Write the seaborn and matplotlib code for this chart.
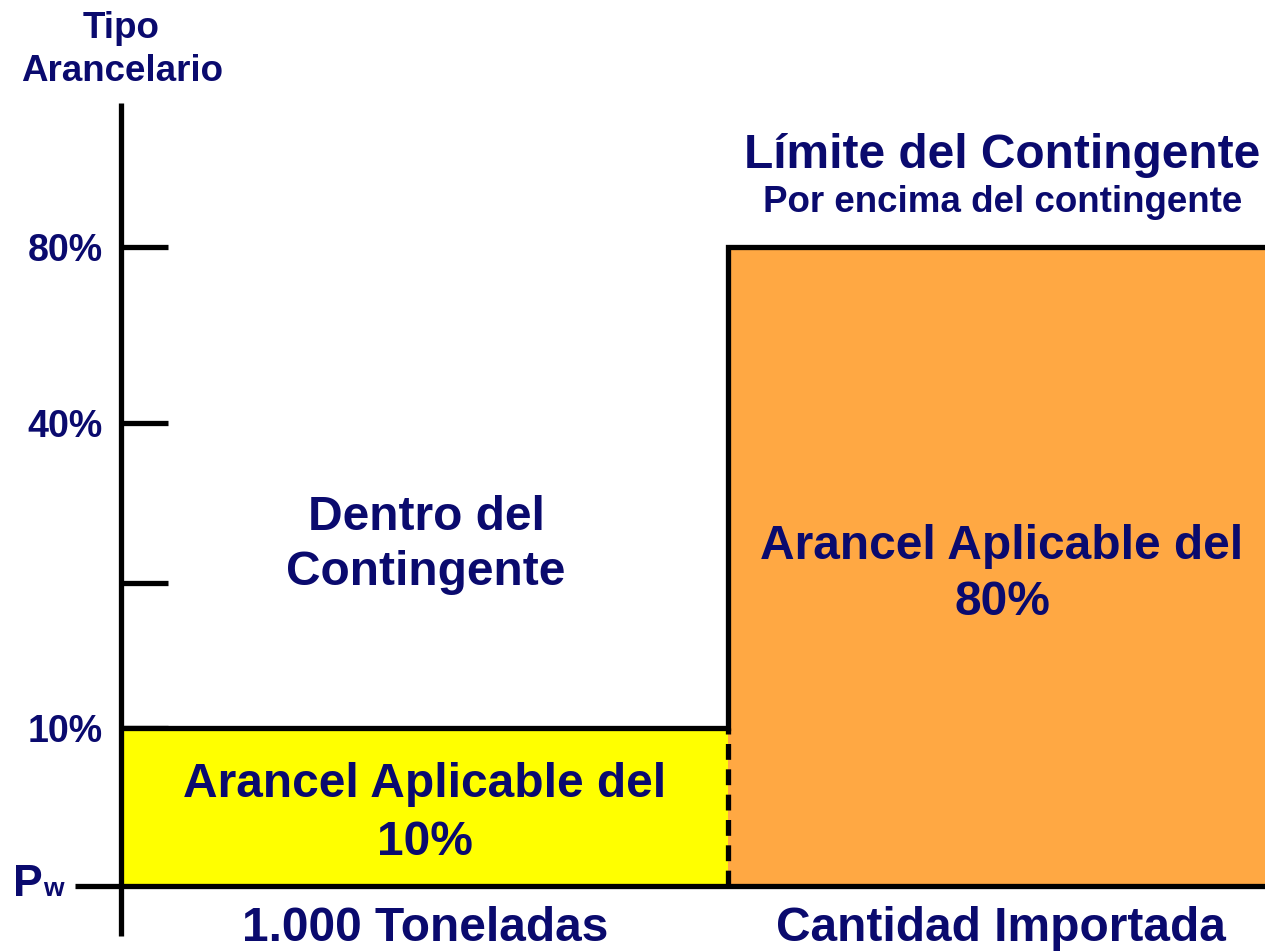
import numpy as np
import pandas as pd
import matplotlib
matplotlib.use("Agg")
import matplotlib.pyplot as plt
import seaborn as sns

# data
zones = ["Dentro del contingente", "Por encima del contingente"]
tariffs = [10, 80]                       # arancel aplicable (%)
quota_edges = [0.0, 1.0, 1.885]          # miles de toneladas (limite = 1.000 t)
tick_values = [10, 20, 40, 80]
tick_labels = ["10%", "", "40%", "80%"]

navy = "#0A0A6E"
colors = {zones[0]: "#FFFF00", zones[1]: "#FFA843"}

# the tariff axis of the diagram is not linear
knots_val = np.array([0, 10, 20, 40, 80, 100])
knots_pos = np.array([0, 158, 303, 463, 639, 783])
fwd = lambda v: np.interp(v, knots_val, knots_pos)
inv = lambda p: np.interp(p, knots_pos, knots_val)

sns.set_theme(style="white")
plt.rcParams["font.family"] = ["Liberation Sans", "DejaVu Sans"]
plt.rcParams["font.weight"] = "bold"

W, H = 1265, 952
fig = plt.figure(figsize=(W / 100, H / 100), dpi=100)
ax = fig.add_axes([121 / W, (H - 886) / H, (W - 121) / W, (886 - 103) / H])
ax.set_yscale("function", functions=(fwd, inv))

df = pd.DataFrame({
    "zone": zones,
    "mid": [(quota_edges[i] + quota_edges[i + 1]) / 2 for i in range(2)],
    "tariff": tariffs,
})
sns.histplot(data=df, x="mid", weights="tariff", hue="zone", bins=quota_edges,
             palette=colors, alpha=1, linewidth=0, legend=False,
             multiple="layer", ax=ax)

ax.set_xlim(quota_edges[0], quota_edges[-1])
ax.set_ylim(0, 100)
for s in ax.spines.values():
    s.set_visible(False)
ax.set_xlabel("")
ax.set_ylabel("")
ax.set_xticks([])
ax.set_yticks(tick_values, tick_labels)
ax.tick_params(axis="y", direction="in", length=34, width=3.8, color="black",
               pad=13, labelsize=27, labelcolor=navy, left=True)
for lab in ax.get_yticklabels():
    lab.set_fontweight("bold")

lw = 3.8
q = quota_edges[1]
# outline of the two tariff levels
ax.plot([0, q, q, quota_edges[-1]], [tariffs[0], tariffs[0], tariffs[1], tariffs[1]],
        color="black", lw=lw, solid_capstyle="butt", solid_joinstyle="miter",
        clip_on=False)
ax.plot([q, q], [0, tariffs[0]], color="black", lw=lw, ls=(0, (3, 1.8)))
# axes lines
ax.plot([-46 / 1144, 1], [0, 0], transform=ax.transAxes, color="black", lw=lw,
        clip_on=False, solid_capstyle="butt")
ax.plot([0, 0], [-50 / 783, 1], transform=ax.transAxes, color="black", lw=lw,
        clip_on=False, solid_capstyle="butt")


def txt(x, y, s, size, ha="center"):
    fig.text(x / W, 1 - y / H, s, fontsize=size, color=navy, fontweight="bold",
             ha=ha, va="baseline")


txt(121, 38, "Tipo", 26.5)
txt(122, 81, "Arancelario", 26.5)
txt(1002, 168, "Límite del Contingente", 34.5)
txt(1003, 212, "Por encima del contingente", 26.5)
txt(426, 530, "Dentro del", 34.5)
txt(426, 585, "Contingente", 34.5)
txt(1002, 559, "Arancel Aplicable del", 34.5)
txt(1002, 615, "80%", 34.5)
txt(425, 797, "Arancel Aplicable del", 34.5)
txt(425, 855, "10%", 34.5)
txt(425, 941, "1.000 Toneladas", 34.5)
txt(1001, 941, "Cantidad Importada", 34.5)
txt(13, 896, "P", 32, ha="left")
txt(43, 896, "w", 19, ha="left")

fig.savefig("out.png", dpi=100)
